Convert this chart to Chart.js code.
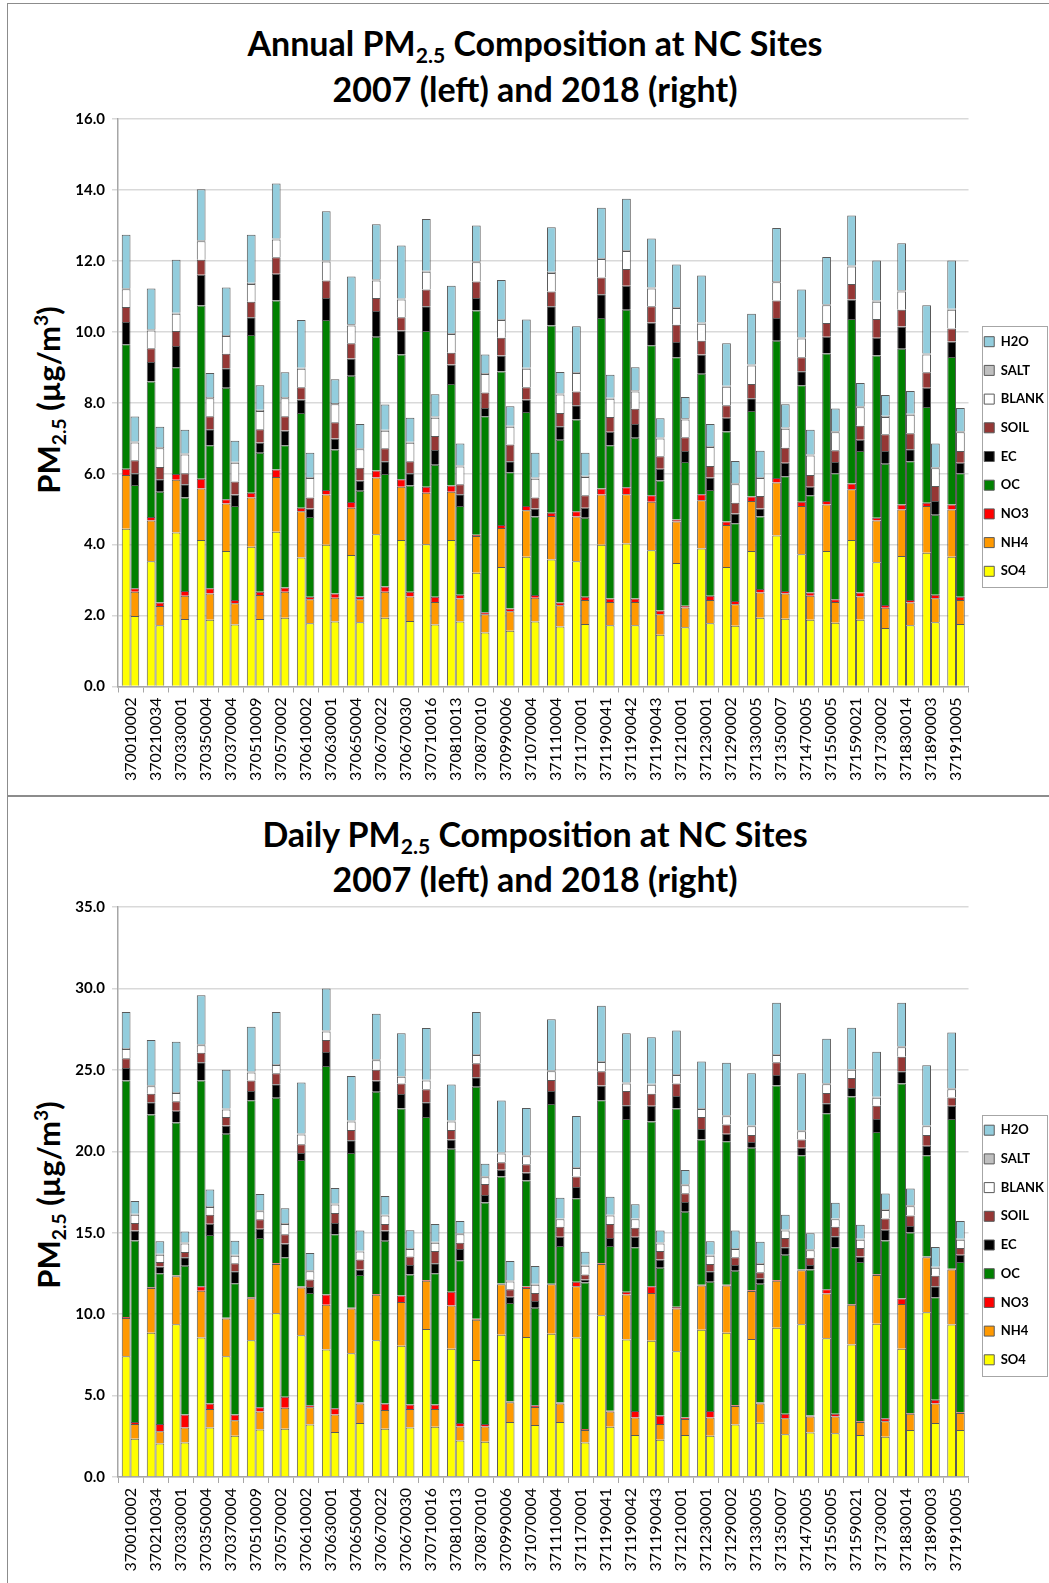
<!DOCTYPE html>
<html><head><meta charset="utf-8">
<script src="https://cdn.jsdelivr.net/npm/chart.js@4.4.1/dist/chart.umd.min.js"></script>
<style>
html,body{margin:0;padding:0;background:#fff;}
body{width:1049px;height:1583px;position:relative;overflow:hidden;font-family:Lato,'Open Sans',sans-serif;color:#000;}
.panel{position:absolute;border:1.5px solid #8c8c8c;box-sizing:border-box;}
.title{position:absolute;left:0;width:1070px;text-align:center;font-weight:bold;font-size:34px;line-height:34px;white-space:nowrap;}
.ytitle{position:absolute;transform:translate(-50%,-50%) rotate(-90deg);font-weight:bold;font-size:31px;white-space:nowrap;line-height:31px;}
.sb{font-size:0.62em;vertical-align:-0.32em;line-height:0;}
.sp{font-size:0.62em;vertical-align:0.62em;line-height:0;}
canvas{position:absolute;left:0;}
</style></head>
<body>
<div class="panel" style="left:7px;top:3px;width:1044px;height:793px;"></div>
<div class="panel" style="left:7px;top:796px;width:1044px;height:795px;"></div>

<div class="title" style="top:26px;">Annual PM<span class="sb">2.5</span> Composition at NC Sites</div>
<div class="title" style="top:72px;">2007 (left) and 2018 (right)</div>
<div class="ytitle" style="left:48px;top:400px;">PM<span class="sb">2.5</span> (µg/m<span class="sp">3</span>)</div>

<div class="title" style="top:817px;">Daily PM<span class="sb">2.5</span> Composition at NC Sites</div>
<div class="title" style="top:862px;">2007 (left) and 2018 (right)</div>
<div class="ytitle" style="left:48px;top:1195px;">PM<span class="sb">2.5</span> (µg/m<span class="sp">3</span>)</div>

<canvas id="c1" width="1054" height="694" style="top:100px;"></canvas>
<canvas id="c2" width="1054" height="693" style="top:890px;"></canvas>

<script>
const sites = ['370010002','370210034','370330001','370350004','370370004','370510009','370570002','370610002','370630001','370650004','370670022','370670030','370710016','370810013','370870010','370990006','371070004','371110004','371170001','371190041','371190042','371190043','371210001','371230001','371290002','371330005','371350007','371470005','371550005','371590021','371730002','371830014','371890003','371910005'];
const components = ['SO4','NH4','NO3','OC','EC','SOIL','BLANK','SALT','H2O'];
const fills = ['#FFFF00','#FF9900','#FF0000','#008000','#000000','#953735','#FFFFFF','#BFBFBF','#93CDDD'];

// Annual, 2007 (left bars)
const annSO4_07 = [4.45,3.53,4.34,4.13,3.82,3.94,4.36,3.64,4.00,3.71,4.29,4.13,4.01,4.13,3.21,3.37,3.66,3.58,3.53,4.00,4.03,3.84,3.48,3.89,3.37,3.82,4.26,3.73,3.82,4.13,3.50,3.68,3.77,3.66];
const annNH4_07 = [1.51,1.15,1.49,1.45,1.34,1.39,1.55,1.30,1.41,1.33,1.60,1.50,1.45,1.36,1.03,1.10,1.31,1.23,1.26,1.41,1.39,1.37,1.17,1.36,1.18,1.41,1.49,1.36,1.31,1.43,1.18,1.31,1.32,1.33];
const annNO3_07 = [0.18,0.10,0.16,0.28,0.12,0.13,0.21,0.10,0.13,0.16,0.20,0.21,0.17,0.18,0.04,0.08,0.12,0.09,0.15,0.17,0.20,0.18,0.06,0.17,0.10,0.13,0.13,0.12,0.10,0.16,0.08,0.14,0.09,0.14];
const annOC_07 = [3.51,3.82,3.01,4.88,3.14,4.45,4.76,2.67,4.79,3.56,3.77,3.52,4.39,2.86,6.32,4.33,2.65,5.28,2.59,4.81,5.00,4.23,4.57,3.40,2.54,2.41,3.87,3.28,4.16,4.64,4.57,4.39,2.70,4.16];
const annEC_07 = [0.63,0.55,0.60,0.87,0.55,0.50,0.76,0.38,0.62,0.49,0.73,0.68,0.70,0.55,0.35,0.45,0.35,0.54,0.40,0.67,0.68,0.64,0.43,0.54,0.39,0.36,0.64,0.40,0.47,0.55,0.50,0.63,0.54,0.44];
const annSOIL_07 = [0.42,0.39,0.42,0.42,0.41,0.44,0.46,0.35,0.50,0.43,0.36,0.37,0.47,0.33,0.47,0.50,0.35,0.42,0.39,0.47,0.47,0.46,0.49,0.39,0.35,0.40,0.49,0.39,0.39,0.44,0.53,0.47,0.44,0.36];
const annBLANK_07 = [0.50,0.50,0.49,0.52,0.50,0.50,0.50,0.52,0.53,0.50,0.50,0.50,0.50,0.53,0.54,0.50,0.52,0.52,0.52,0.52,0.51,0.50,0.47,0.48,0.52,0.52,0.52,0.53,0.50,0.49,0.49,0.52,0.50,0.53];
const annSALT_07 = [0.03,0.03,0.03,0.03,0.03,0.03,0.03,0.03,0.03,0.03,0.03,0.03,0.03,0.03,0.03,0.03,0.03,0.03,0.03,0.03,0.03,0.03,0.03,0.03,0.03,0.03,0.03,0.03,0.03,0.03,0.03,0.03,0.03,0.03];
const annH2O_07 = [1.51,1.15,1.49,1.44,1.34,1.36,1.55,1.34,1.39,1.35,1.55,1.49,1.46,1.33,1.01,1.10,1.36,1.26,1.29,1.42,1.44,1.38,1.20,1.33,1.20,1.43,1.50,1.35,1.33,1.41,1.13,1.33,1.36,1.36];

// Annual, 2018 (right bars)
const annSO4_18 = [1.99,1.73,1.90,1.88,1.75,1.90,1.94,1.78,1.83,1.81,1.94,1.85,1.75,1.83,1.52,1.57,1.83,1.69,1.76,1.73,1.73,1.46,1.67,1.78,1.71,1.94,1.91,1.88,1.80,1.88,1.65,1.73,1.81,1.76];
const annNH4_18 = [0.68,0.54,0.66,0.74,0.60,0.68,0.73,0.68,0.67,0.65,0.73,0.69,0.63,0.65,0.52,0.55,0.67,0.60,0.68,0.65,0.65,0.58,0.56,0.66,0.61,0.71,0.71,0.68,0.58,0.66,0.57,0.64,0.68,0.68];
const annNO3_18 = [0.10,0.10,0.13,0.15,0.09,0.09,0.12,0.07,0.12,0.08,0.15,0.13,0.15,0.11,0.05,0.08,0.08,0.08,0.09,0.10,0.10,0.10,0.05,0.12,0.09,0.10,0.07,0.09,0.08,0.11,0.08,0.07,0.10,0.09];
const annOC_18 = [2.91,3.12,2.64,4.03,2.65,3.92,4.01,2.25,4.06,2.98,3.17,3.00,3.72,2.50,5.53,3.84,2.21,4.59,2.23,4.32,4.53,3.67,4.05,2.98,2.19,2.04,3.24,2.74,3.55,3.99,3.98,3.91,2.25,3.48];
const annEC_18 = [0.33,0.35,0.37,0.45,0.32,0.29,0.42,0.24,0.31,0.29,0.36,0.34,0.42,0.33,0.23,0.31,0.23,0.38,0.28,0.38,0.39,0.33,0.31,0.35,0.28,0.23,0.38,0.24,0.32,0.32,0.36,0.34,0.39,0.30];
const annSOIL_18 = [0.37,0.35,0.31,0.37,0.37,0.37,0.40,0.31,0.46,0.36,0.37,0.34,0.39,0.28,0.44,0.47,0.31,0.37,0.35,0.42,0.43,0.35,0.39,0.33,0.30,0.35,0.42,0.33,0.33,0.39,0.47,0.45,0.42,0.33];
const annBLANK_18 = [0.50,0.53,0.53,0.51,0.53,0.52,0.51,0.55,0.51,0.52,0.49,0.52,0.52,0.50,0.52,0.50,0.53,0.52,0.52,0.51,0.49,0.50,0.50,0.53,0.52,0.51,0.54,0.55,0.51,0.52,0.49,0.52,0.50,0.53];
const annSALT_18 = [0.03,0.03,0.03,0.03,0.03,0.03,0.03,0.03,0.03,0.03,0.03,0.03,0.03,0.03,0.03,0.03,0.03,0.03,0.03,0.03,0.03,0.03,0.03,0.03,0.03,0.03,0.03,0.03,0.03,0.03,0.03,0.03,0.03,0.03];
const annH2O_18 = [0.70,0.57,0.67,0.68,0.59,0.69,0.70,0.68,0.67,0.68,0.71,0.68,0.63,0.62,0.52,0.55,0.70,0.61,0.65,0.65,0.65,0.54,0.60,0.62,0.63,0.74,0.66,0.70,0.64,0.66,0.59,0.64,0.67,0.65];

// Daily, 2007 (left bars)
const daySO4_07 = [7.42,8.86,9.38,8.56,7.42,8.40,10.05,8.70,7.83,7.60,8.40,8.06,9.09,7.88,7.19,8.74,8.60,8.79,8.56,9.93,8.45,8.36,7.72,9.04,8.86,8.47,9.16,9.38,8.52,8.13,9.41,7.88,10.11,9.36];
const dayNH4_07 = [2.35,2.74,2.95,2.88,2.31,2.58,3.03,2.94,2.74,2.74,2.79,2.69,2.96,2.65,2.47,3.09,3.00,3.04,3.15,3.15,2.76,2.94,2.62,2.72,2.90,2.95,2.89,3.31,2.74,2.44,2.99,2.74,3.38,3.38];
const dayNO3_07 = [0.05,0.05,0.05,0.27,0.05,0.05,0.05,0.05,0.64,0.06,0.05,0.39,0.05,0.84,0.05,0.05,0.10,0.04,0.28,0.05,0.16,0.41,0.12,0.05,0.05,0.05,0.05,0.05,0.27,0.05,0.05,0.34,0.05,0.05];
const dayOC_07 = [14.52,10.61,9.38,12.63,11.29,12.10,10.16,7.78,14.02,9.49,12.41,11.49,10.00,8.79,14.26,6.57,6.50,11.03,5.13,10.00,10.62,10.12,12.17,8.92,8.81,8.74,11.94,7.01,10.80,12.74,8.74,13.20,6.21,9.20];
const dayEC_07 = [0.77,0.75,0.73,1.12,0.51,0.57,0.82,0.42,0.87,0.79,0.69,0.89,0.91,0.57,0.57,0.41,0.50,0.80,0.69,0.91,0.84,0.96,0.77,0.64,0.45,0.36,0.64,0.46,0.62,0.52,0.80,0.75,0.59,0.80];
const daySOIL_07 = [0.60,0.53,0.59,0.59,0.52,0.64,0.68,0.54,0.73,0.62,0.66,0.64,0.80,0.57,0.87,0.46,0.50,0.68,0.64,0.87,0.87,0.75,0.76,0.73,0.57,0.43,0.78,0.52,0.63,0.62,0.80,0.89,0.66,0.52];
const dayBLANK_07 = [0.57,0.46,0.50,0.46,0.46,0.50,0.51,0.60,0.52,0.53,0.59,0.41,0.53,0.53,0.50,0.54,0.50,0.53,0.52,0.57,0.46,0.55,0.52,0.50,0.51,0.53,0.45,0.50,0.53,0.50,0.50,0.59,0.53,0.50];
const daySALT_07 = [0.06,0.06,0.06,0.06,0.06,0.06,0.06,0.06,0.06,0.06,0.06,0.06,0.06,0.06,0.06,0.06,0.06,0.06,0.06,0.06,0.06,0.06,0.06,0.06,0.06,0.06,0.06,0.06,0.06,0.06,0.06,0.06,0.06,0.06];
const dayH2O_07 = [2.21,2.78,3.09,3.01,2.39,2.74,3.19,3.13,2.58,2.74,2.79,2.62,3.17,2.21,2.58,3.20,2.90,3.13,3.13,3.40,3.03,2.85,2.67,2.86,3.22,3.20,3.15,3.50,2.74,2.53,2.76,2.67,3.70,3.43];

// Daily, 2018 (right bars)
const daySO4_18 = [2.35,2.05,2.12,3.04,2.53,2.92,2.97,3.22,2.76,3.31,2.97,3.04,3.08,2.24,2.17,3.38,3.20,3.38,2.12,3.08,2.58,2.28,2.58,2.53,3.22,3.33,2.63,2.74,2.69,2.58,2.47,2.88,3.31,2.88];
const dayNH4_18 = [0.91,0.76,0.92,1.14,0.96,1.10,1.28,1.07,1.08,1.21,1.14,1.14,1.10,0.86,0.93,1.21,1.10,1.14,0.76,0.94,1.07,0.98,0.98,1.12,1.14,1.19,0.98,0.98,1.03,0.80,0.95,1.00,1.21,1.05];
const dayNO3_18 = [0.12,0.45,0.80,0.34,0.35,0.27,0.68,0.12,0.38,0.05,0.41,0.27,0.27,0.21,0.16,0.05,0.10,0.05,0.07,0.05,0.41,0.51,0.09,0.41,0.05,0.05,0.27,0.05,0.16,0.05,0.19,0.05,0.23,0.05];
const dayOC_18 = [11.14,9.25,9.13,10.34,8.05,10.39,8.56,6.89,10.69,7.83,9.98,7.99,8.06,10.00,13.59,6.04,6.00,9.61,8.99,10.11,10.05,9.08,12.63,7.93,8.26,7.30,9.77,8.97,10.23,9.77,10.91,11.09,6.28,9.22];
const dayEC_18 = [0.62,0.41,0.52,0.69,0.74,0.57,0.85,0.37,0.68,0.34,0.64,0.57,0.62,0.69,0.46,0.39,0.40,0.57,0.18,0.50,0.64,0.51,0.61,0.64,0.34,0.34,0.46,0.27,0.68,0.34,0.66,0.39,0.68,0.45];
const daySOIL_18 = [0.45,0.28,0.32,0.55,0.50,0.57,0.57,0.45,0.62,0.62,0.39,0.53,0.75,0.38,0.68,0.46,0.50,0.62,0.32,0.85,0.55,0.52,0.53,0.45,0.48,0.37,0.57,0.46,0.58,0.52,0.69,0.64,0.64,0.41];
const dayBLANK_18 = [0.51,0.45,0.53,0.48,0.45,0.50,0.62,0.51,0.53,0.48,0.52,0.46,0.50,0.53,0.41,0.48,0.50,0.45,0.53,0.52,0.52,0.46,0.50,0.50,0.51,0.50,0.46,0.46,0.45,0.51,0.52,0.57,0.50,0.51];
const daySALT_18 = [0.06,0.06,0.06,0.06,0.06,0.06,0.06,0.06,0.06,0.06,0.06,0.06,0.06,0.06,0.06,0.06,0.06,0.06,0.06,0.06,0.06,0.06,0.06,0.06,0.06,0.06,0.06,0.06,0.06,0.06,0.06,0.06,0.06,0.06];
const dayH2O_18 = [0.79,0.76,0.68,1.02,0.87,0.99,0.91,1.07,0.95,1.23,1.14,1.09,1.10,0.75,0.78,1.19,1.10,1.26,0.80,1.10,0.87,0.73,0.87,0.83,1.07,1.30,0.91,0.98,0.96,0.86,0.96,1.03,1.21,1.09];

const legendBox = {
  id: 'legendBox',
  afterDraw(chart, args, opts) {
    const lg = chart.legend;
    if (!lg || !lg.legendHitBoxes || !lg.legendHitBoxes.length) return;
    let top = Infinity, bottom = -Infinity;
    lg.legendHitBoxes.forEach(h => { top = Math.min(top, h.top); bottom = Math.max(bottom, h.top + h.height); });
    const ctx = chart.ctx;
    ctx.save();
    ctx.strokeStyle = '#a6a6a6';
    ctx.lineWidth = 1;
    ctx.strokeRect(opts.left + 0.5, Math.round(top - opts.padY) + 0.5, opts.right - opts.left, Math.round(bottom - top + 2 * opts.padY));
    ctx.restore();
  }
};

function makeSets(list07, list18) {
  const sets = [];
  components.forEach((name, i) => sets.push({label: name, data: list07[i], stack: 'y2007', backgroundColor: fills[i], borderColor: '#595959', borderWidth: 1}));
  components.forEach((name, i) => sets.push({label: name + ' 2018', data: list18[i], stack: 'y2018', backgroundColor: fills[i], borderColor: '#595959', borderWidth: 1}));
  return sets;
}

function makeChart(id, sets, yMax, yStep, padTop, xHeight) {
  return new Chart(document.getElementById(id), {
    type: 'bar',
    data: {labels: sites, datasets: sets},
    plugins: [legendBox],
    options: {
      responsive: false, animation: false, devicePixelRatio: 1,
      layout: {padding: {top: padTop, right: 0, bottom: 0, left: 0}},
      datasets: {bar: {categoryPercentage: 0.70, barPercentage: 1.0}},
      plugins: {
        legend: {
          position: 'right', align: 'center', reverse: true,
          labels: {boxWidth: 10, boxHeight: 10, padding: 15.7, color: '#000',
            font: {family: 'Lato', size: 13, weight: 'bold'},
            filter: item => item.datasetIndex < 9}
        },
        tooltip: {enabled: false},
        title: {display: false},
        legendBox: {left: 982, right: 1047, padY: 9}
      },
      scales: {
        x: {
          stacked: true,
          grid: {display: true, drawOnChartArea: false, drawTicks: true, tickLength: 6, color: '#a6a6a6', offset: true, lineWidth: 1},
          border: {display: true, color: '#a6a6a6', width: 1.5},
          ticks: {minRotation: 90, maxRotation: 90, autoSkip: false, padding: 5, color: '#000', font: {family: 'Lato', size: 16}},
          afterFit(s) { s.height = xHeight; }
        },
        y: {
          stacked: true, min: 0, max: yMax,
          ticks: {stepSize: yStep, callback: v => v.toFixed(1), color: '#000', padding: 7, font: {family: 'Lato', size: 15, weight: 'bold'}},
          grid: {color: '#d9d9d9', lineWidth: 1.5, tickLength: 6, drawTicks: true},
          border: {display: true, color: '#a6a6a6', width: 1.5},
          afterFit(s) { s.width = 118; }
        }
      }
    }
  });
}

makeChart('c1',
  makeSets([annSO4_07, annNH4_07, annNO3_07, annOC_07, annEC_07, annSOIL_07, annBLANK_07, annSALT_07, annH2O_07],
           [annSO4_18, annNH4_18, annNO3_18, annOC_18, annEC_18, annSOIL_18, annBLANK_18, annSALT_18, annH2O_18]),
  16, 2, 19, 107.5);

makeChart('c2',
  makeSets([daySO4_07, dayNH4_07, dayNO3_07, dayOC_07, dayEC_07, daySOIL_07, dayBLANK_07, daySALT_07, dayH2O_07],
           [daySO4_18, dayNH4_18, dayNO3_18, dayOC_18, dayEC_18, daySOIL_18, dayBLANK_18, daySALT_18, dayH2O_18]),
  35, 5, 17, 106);
</script>
</body></html>
